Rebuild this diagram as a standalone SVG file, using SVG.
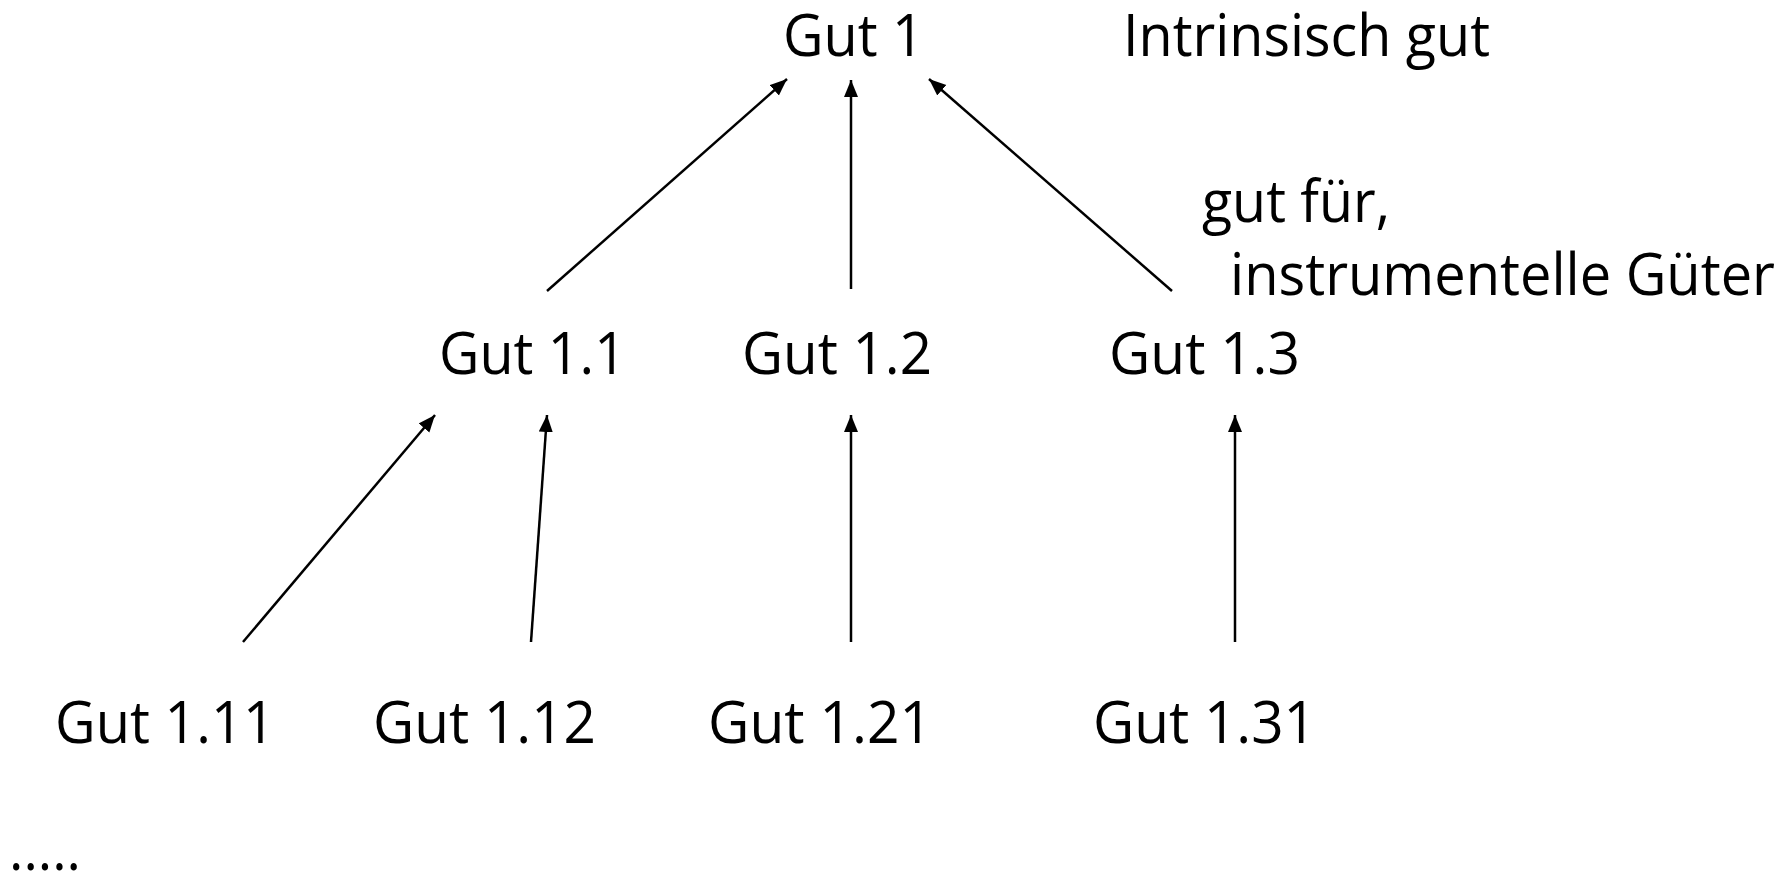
<svg xmlns="http://www.w3.org/2000/svg" width="1788" height="875" viewBox="0 0 1788 875">
  <style>
    text { font-family: "Open Sans", "Liberation Sans", sans-serif; font-size: 59px; fill: #000; }
    .edge { stroke: #000; stroke-width: 2.5; fill: none; marker-end: url(#head); }
  </style>
  <defs>
    <marker id="head" markerUnits="userSpaceOnUse" markerWidth="18" markerHeight="15" refX="17" refY="7" orient="auto">
      <path d="M0,0 L17,7 L0,14 z" fill="#000"/>
    </marker>
  </defs>
  <rect width="1788" height="875" fill="#fff"/>

  <!-- connectors: each good points up to the good it serves -->
  <g id="connectors">
    <line class="edge" x1="547" y1="291" x2="787" y2="79"/>
    <line class="edge" x1="851" y1="289" x2="851" y2="80"/>
    <line class="edge" x1="1172" y1="291" x2="929" y2="79"/>
    <line class="edge" x1="243" y1="642" x2="435" y2="415"/>
    <line class="edge" x1="531" y1="642" x2="547" y2="415"/>
    <line class="edge" x1="851" y1="642" x2="851" y2="415"/>
    <line class="edge" x1="1235" y1="642" x2="1235" y2="415"/>
  </g>

  <!-- top level -->
  <g id="gut1"><text x="783" y="56" textLength="141" lengthAdjust="spacingAndGlyphs">Gut 1</text></g>
  <g id="label-intrinsic"><text x="1123" y="56" textLength="367" lengthAdjust="spacingAndGlyphs">Intrinsisch gut</text></g>

  <!-- annotation for the middle level -->
  <g id="label-instrumental">
    <text x="1202" y="222" textLength="188" lengthAdjust="spacingAndGlyphs">gut für,</text>
    <text x="1230" y="295" textLength="545" lengthAdjust="spacingAndGlyphs">instrumentelle Güter</text>
  </g>

  <!-- middle level -->
  <g id="gut1-1"><text x="439" y="374" textLength="187" lengthAdjust="spacingAndGlyphs">Gut 1.1</text></g>
  <g id="gut1-2"><text x="742" y="374" textLength="190" lengthAdjust="spacingAndGlyphs">Gut 1.2</text></g>
  <g id="gut1-3"><text x="1109" y="374" textLength="191" lengthAdjust="spacingAndGlyphs">Gut 1.3</text></g>

  <!-- bottom level -->
  <g id="gut1-11"><text x="55" y="743" textLength="220" lengthAdjust="spacingAndGlyphs">Gut 1.11</text></g>
  <g id="gut1-12"><text x="373" y="743" textLength="223" lengthAdjust="spacingAndGlyphs">Gut 1.12</text></g>
  <g id="gut1-21"><text x="708" y="743" textLength="224" lengthAdjust="spacingAndGlyphs">Gut 1.21</text></g>
  <g id="gut1-31"><text x="1093" y="743" textLength="223" lengthAdjust="spacingAndGlyphs">Gut 1.31</text></g>

  <g id="ellipsis"><text x="9" y="870" textLength="72" lengthAdjust="spacingAndGlyphs">.....</text></g>
</svg>
